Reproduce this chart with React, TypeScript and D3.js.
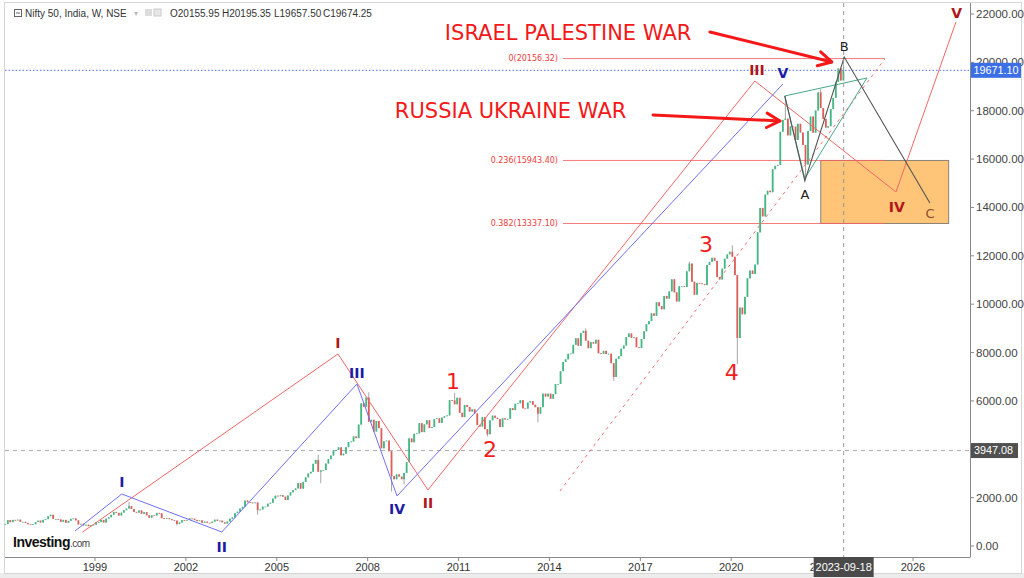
import React from 'react';
import * as d3 from 'd3';

const W = 1024;
const H = 578;

// Nifty 50 monthly closes, Jan 1996 onward
const closes1990s = [
  905, 1070, 985, 1080, 1060, 1090, 1000, 1000, 950, 900, 870, 900,
  990, 1050, 970, 1080, 1110, 1230, 1290, 1120, 1120, 1100, 1000, 1080,
  960, 1040, 1120, 1140, 1060, 890, 920, 850, 880, 820, 870, 880,
  990, 990, 1080, 970, 1130, 1190, 1290, 1410, 1370, 1260, 1380, 1480,
];
const closes2000s = [
  1550, 1650, 1530, 1410, 1380, 1470, 1330, 1400, 1270, 1170, 1270, 1260,
  1370, 1350, 1150, 1130, 1150, 1110, 1070, 1050, 910, 970, 1070, 1060,
  1080, 1140, 1130, 1080, 1030, 1060, 960, 1010, 960, 950, 1010, 1090,
  1040, 1050, 980, 930, 1010, 1130, 1180, 1360, 1420, 1550, 1620, 1880,
  1810, 1800, 1770, 1800, 1480, 1510, 1630, 1630, 1750, 1790, 1960, 2080,
  2060, 2100, 2040, 1900, 2090, 2220, 2310, 2380, 2600, 2370, 2650, 2840,
  3000, 3070, 3400, 3560, 3070, 3130, 3140, 3410, 3590, 3740, 3950, 3970,
  4080, 3750, 3820, 4090, 4300, 4320, 4530, 4460, 5020, 5900, 5760, 6140,
  5140, 5220, 4730, 5170, 4870, 4040, 4330, 4360, 3920, 2890, 2760, 2960,
  2870, 2760, 3020, 3470, 4450, 4290, 4640, 4660, 5080, 4710, 5030, 5200,
];
const closes2010s = [
  4880, 4920, 5250, 5280, 5090, 5310, 5370, 5400, 6030, 6020, 5860, 6130,
  5510, 5330, 5830, 5750, 5560, 5650, 5480, 5000, 4940, 5330, 4830, 4620,
  5200, 5390, 5300, 5250, 4920, 5280, 5230, 5260, 5700, 5620, 5880, 5900,
  6030, 5690, 5680, 5930, 5990, 5840, 5740, 5470, 5740, 6300, 6180, 6300,
  6090, 6280, 6700, 6700, 7230, 7610, 7720, 7950, 7960, 8320, 8590, 8280,
  8810, 8900, 8490, 8180, 8430, 8370, 8530, 7970, 7950, 8070, 7940, 7950,
  7560, 6990, 7740, 7850, 8160, 8290, 8640, 8790, 8610, 8630, 8220, 8190,
  8560, 8880, 9170, 9300, 9620, 9520, 10080, 9920, 9790, 10340, 10230, 10530,
  11030, 10490, 10110, 10740, 10740, 10710, 11360, 11680, 10930, 10390, 10880, 10860,
  10830, 10790, 11620, 11750, 11920, 11790, 11120, 11020, 11470, 11880, 12060, 12170,
];
const closes2020s = [
  11960, 11200, 8600, 9860, 9580, 10300, 11070, 11390, 11250, 11640, 12970, 13980,
  13630, 14530, 14690, 14630, 15580, 15720, 15760, 17130, 17620, 17670, 16980, 17350,
  17340, 16790, 17460, 17100, 16580, 15780, 17160, 17760, 17090, 18010, 18760, 18110,
  17660, 17300, 17360, 18070, 18530, 19190, 19750, 19250, 19674,
];

// wick extremes for a few months
const wickHighs: [string, number][] = [
  ['2000-02', 1818], ['2006-05', 3774], ['2008-01', 6357], ['2010-11', 6338],
  ['2015-03', 8996], ['2018-08', 11760], ['2020-01', 12430], ['2021-10', 18604],
  ['2022-12', 18887], ['2023-09', 20222],
];
const wickLows: [string, number][] = [
  ['2001-09', 849], ['2003-04', 920], ['2004-05', 1292], ['2006-06', 2595],
  ['2008-10', 2252], ['2009-03', 2539], ['2011-12', 4531], ['2013-08', 5119],
  ['2016-02', 6826], ['2020-03', 7511], ['2022-06', 15183],
];

// Elliott wave paths [date, price]
const redWave: [string, number][] = [
  ['1998-08-01', 570], ['2007-01-08', 7940], ['2009-12-28', 2316],
  ['2020-10-12', 19230], ['2025-06-10', 14640], ['2027-06-03', 21670],
];
const blueWave: [string, number][] = [
  ['1998-05-05', 620], ['1999-11-20', 2150], ['2003-03-10', 579],
  ['2007-08-25', 6700], ['2008-12-20', 2068], ['2021-09-16', 19107],
];
const abcWave: [string, number][] = [
  ['2021-10-08', 18610], ['2022-06-07', 15095], ['2023-09-25', 20223], ['2026-07-24', 14185],
];
const triangle: [string, number][] = [
  ['2021-10-08', 18610], ['2024-06-25', 19355], ['2022-06-07', 15200],
];
const channel: [string, number][] = [['2014-05-08', 2275], ['2025-01-26', 20141]];

const fibLevels = [20156.32, 15943.4, 13337.1];
const fibRatios = ['0', '0.236', '0.382'];
const fibSpan = ['2014-06-13', '2025-01-26'];
const boxSpan = ['2022-12-16', '2027-03-07'];

const romanNames = ['I', 'II', 'III', 'IV', 'V'];
const redRomanPos: [string, number][] = [
  ['2007-01-08', 8395], ['2009-12-28', 1778], ['2020-11-07', 19686],
  ['2025-06-20', 14020], ['2027-06-12', 22043],
];
const blueRomanPos: [string, number][] = [
  ['1999-11-20', 2647], ['2003-03-10', -41], ['2007-08-25', 7155],
  ['2008-12-20', 1530], ['2021-09-16', 19562],
];
const digitNames = ['1', '2', '3', '4'];
const digitPos: [string, number][] = [
  ['2010-10-27', 6824], ['2012-01-15', 4012], ['2019-03-03', 12490], ['2020-01-08', 7196],
];
const abcNames = ['A', 'B', 'C'];
const abcPos: [string, number][] = [
  ['2022-06-07', 14557], ['2023-09-25', 20678], ['2026-07-24', 13772],
];

const warTexts = ['ISRAEL PALESTINE WAR', 'RUSSIA UKRAINE WAR'];
const warTextPos: [string, number][] = [['2010-07-20', 21257], ['2008-11-24', 18032]];
const warArrows: [string, number, string, number][] = [
  ['2019-04-20', 21257, '2023-04-27', 20017],
  ['2017-06-03', 17825, '2021-08-11', 17577],
];

const lastClose = 19671.1;
const markLevel = 3947.08;
const cursorDate = '2023-09-18';
const yTicks = d3.range(0, 22001, 2000);
const xTickYears = d3.range(1999, 2027, 3);

const parse = d3.timeParse('%Y-%m-%d');
const dt = (s: string) => parse(s) as Date;

export default function App() {
  const base = d3.scaleTime().domain([new Date(1999, 0, 1), new Date(2026, 0, 1)]).range([95, 913]);
  const x = d3.scaleTime().domain([base.invert(5), base.invert(970)]).range([5, 970]);
  const y = d3.scaleLinear().domain([0, 22000]).range([546, 14]);

  const closes = [...closes1990s, ...closes2000s, ...closes2010s, ...closes2020s];
  const hiMap = new Map(wickHighs);
  const loMap = new Map(wickLows);
  const fmtKey = d3.timeFormat('%Y-%m');
  const candles = closes.map((c, i) => {
    const date = new Date(1996, i, 15);
    const o = i === 0 ? c : closes[i - 1];
    const key = fmtKey(date);
    const hi = Math.max(o, c, hiMap.get(key) ?? 0);
    const lo = Math.min(o, c, loMap.get(key) ?? Infinity);
    return { date, o, c, hi, lo };
  });

  const line = d3.line<[string, number]>().x((d) => x(dt(d[0]))).y((d) => y(d[1]));
  const fmt2 = d3.format('.2f');

  const arrowHead = (x1: number, y1: number, x2: number, y2: number) => {
    const a = Math.atan2(y2 - y1, x2 - x1);
    const L = 15;
    const p1 = [x2 - L * Math.cos(a - 0.5), y2 - L * Math.sin(a - 0.5)];
    const p2 = [x2 - L * Math.cos(a + 0.5), y2 - L * Math.sin(a + 0.5)];
    return `M${p1[0]},${p1[1]}L${x2},${y2}L${p2[0]},${p2[1]}`;
  };

  const font = 'DejaVu Sans, Verdana, sans-serif';
  const axFont = 'Liberation Sans, Arial, sans-serif';
  const narrow = 'Liberation Sans Narrow, Liberation Sans, Arial, sans-serif';
  const cx = x(dt(cursorDate));

  return (
    <svg width={W} height={H} style={{ position: 'absolute', left: 0, top: 0, background: '#fff' }}>
      <defs>
        <clipPath id="xlab">
          <rect x={0} y={557} width={cx - 30} height={21} />
          <rect x={cx + 30} y={557} width={W} height={21} />
        </clipPath>
      </defs>
      <rect x={0} y={0} width={W} height={H} fill="#fff" />
      <rect x={0} y={573} width={W} height={5} fill="#ececec" />
      <rect x={4.5} y={2.5} width={1017} height={571} fill="none" stroke="#d6d6d6" />

      {/* reference lines */}
      <line x1={5} x2={970} y1={y(markLevel)} y2={y(markLevel)} stroke="#aaa" strokeDasharray="4,4" />
      <line x1={5} x2={970} y1={y(lastClose)} y2={y(lastClose)} stroke="#4a6cf7" strokeDasharray="1.5,2" />

      {/* target box */}
      <rect x={x(dt(boxSpan[0]))} y={y(fibLevels[1])} width={x(dt(boxSpan[1])) - x(dt(boxSpan[0]))}
        height={y(fibLevels[2]) - y(fibLevels[1])} fill="#fec478" stroke="#8c8275" />

      {/* fib levels */}
      {fibLevels.map((v, i) => (
        <g key={'f' + i}>
          <line x1={x(dt(fibSpan[0]))} x2={x(dt(fibSpan[1]))} y1={y(v)} y2={y(v)} stroke="#f26464" strokeOpacity={0.85} />
          <text x={x(dt(fibSpan[0])) - 5} y={y(v)} dy="0.35em" textAnchor="end" fontSize={8} fill="#f03c3c" fontFamily={font}>
            {fibRatios[i]}({fmt2(v)})
          </text>
        </g>
      ))}

      {/* candles */}
      {candles.map((d, i) => {
        const up = d.c >= d.o;
        const col = up ? '#43b884' : '#dd5f5a';
        const cxx = x(d.date);
        const top = y(Math.max(d.o, d.c));
        const bot = y(Math.min(d.o, d.c));
        return (
          <g key={'c' + i}>
            <line x1={cxx} x2={cxx} y1={y(d.hi)} y2={y(d.lo)} stroke="#8f8f8f" strokeWidth={0.8} />
            <rect x={cxx - 0.9} y={top} width={1.8} height={Math.max(0.8, bot - top)} fill={col} />
          </g>
        );
      })}

      {/* wave lines */}
      <path d={line(channel) ?? ''} fill="none" stroke="#f07070" strokeDasharray="3,4" />
      <path d={line(redWave) ?? ''} fill="none" stroke="#f26666" />
      <path d={line(blueWave) ?? ''} fill="none" stroke="#6f6ff5" />
      <path d={(line(triangle) ?? '') + 'Z'} fill="none" stroke="#48a882" />
      <path d={line(abcWave) ?? ''} fill="none" stroke="#555" strokeWidth={1.1} />

      {/* cursor */}
      <line x1={cx} x2={cx} y1={3} y2={557} stroke="#999" strokeDasharray="4,4" />

      {/* labels */}
      {redRomanPos.map((p, i) => (
        <text key={'rr' + i} x={x(dt(p[0]))} y={y(p[1])} dy="0.35em" textAnchor="middle" fontSize={14}
          fontWeight="bold" fill="#b0161a" fontFamily={font}>{romanNames[i]}</text>
      ))}
      {blueRomanPos.map((p, i) => (
        <text key={'br' + i} x={x(dt(p[0]))} y={y(p[1])} dy="0.35em" textAnchor="middle" fontSize={14}
          fontWeight="bold" fill="#1c1ca4" fontFamily={font}>{romanNames[i]}</text>
      ))}
      {digitPos.map((p, i) => (
        <text key={'d' + i} x={x(dt(p[0]))} y={y(p[1])} dy="0.36em" textAnchor="middle" fontSize={22}
          fill="#f41c1c" fontFamily={font}>{digitNames[i]}</text>
      ))}
      {abcPos.map((p, i) => (
        <text key={'a' + i} x={x(dt(p[0]))} y={y(p[1])} dy="0.36em" textAnchor="middle" fontSize={13}
          fill={i === 2 ? '#8b4a2a' : '#222'} fontFamily={font}>{abcNames[i]}</text>
      ))}

      {/* war annotations */}
      {warTexts.map((t, i) => (
        <text key={'w' + i} x={x(dt(warTextPos[i][0]))} y={y(warTextPos[i][1])} dy="0.36em" fontSize={21}
          fill="#f41818" fontFamily={font}>{t}</text>
      ))}
      {warArrows.map((a, i) => {
        const x1 = x(dt(a[0])), y1 = y(a[1]), x2 = x(dt(a[2])), y2 = y(a[3]);
        return (
          <g key={'ar' + i} stroke="#f41818" strokeWidth={3} fill="none" strokeLinecap="round">
            <line x1={x1} y1={y1} x2={x2} y2={y2} />
            <path d={arrowHead(x1, y1, x2, y2)} strokeLinejoin="round" />
          </g>
        );
      })}

      {/* axes */}
      <line x1={970.5} x2={970.5} y1={3} y2={557} stroke="#888" />
      <line x1={5} x2={970.5} y1={557.5} y2={557.5} stroke="#888" />
      {yTicks.filter((v) => Math.abs(y(v) - y(markLevel)) > 6).map((v) => (
        <g key={'y' + v}>
          <line x1={970} x2={974} y1={y(v)} y2={y(v)} stroke="#888" />
          <text x={976} y={y(v)} dy="0.35em" fontSize={11.5} fill="#444" fontFamily={axFont}>{fmt2(v)}</text>
        </g>
      ))}
      <g clipPath="url(#xlab)">
        {xTickYears.map((yr) => {
          const px = x(new Date(yr, 0, 1));
          return (
            <g key={'x' + yr}>
              <line x1={px} x2={px} y1={557} y2={561} stroke="#888" />
              <text x={px} y={571} textAnchor="middle" fontSize={11} fill="#333" fontFamily={narrow}>{yr}</text>
            </g>
          );
        })}
      </g>

      {/* price tags */}
      <rect x={971} y={y(lastClose) - 7.5} width={50} height={15} fill="#3c6ee6" />
      <text x={973.5} y={y(lastClose)} dy="0.35em" fontSize={10.8} fill="#fff" fontFamily={axFont}>{fmt2(lastClose)}</text>
      <rect x={971} y={y(markLevel) - 7.5} width={47} height={15} fill="#505050" />
      <text x={974} y={y(markLevel)} dy="0.35em" fontSize={10.8} fill="#fff" fontFamily={axFont}>{fmt2(markLevel)}</text>
      <rect x={cx - 30} y={557} width={60} height={20} fill="#4a4a4a" />
      <text x={cx} y={571} textAnchor="middle" fontSize={11} fill="#fff" fontFamily={narrow}>{cursorDate}</text>

      {/* header */}
      <rect x={14.5} y={9.5} width={7} height={7} fill="none" stroke="#666" />
      <line x1={16} x2={20} y1={13} y2={13} stroke="#666" />
      <text x={25} y={16.5} fontSize={10} fill="#333" fontFamily={axFont}>Nifty 50, India, W, NSE</text>
      <text x={134} y={16} fontSize={8} fill="#bbb" fontFamily={axFont}>▾</text>
      <rect x={145} y={9} width={7} height={7} fill="#ddd" />
      <rect x={154} y={9} width={7} height={7} fill="#e6e6e6" stroke="#ccc" />
      <text x={170} y={16.5} fontSize={10} fill="#333" fontFamily={axFont}>O20155.95</text>
      <text x={222} y={16.5} fontSize={10} fill="#333" fontFamily={axFont}>H20195.35</text>
      <text x={274} y={16.5} fontSize={10} fill="#333" fontFamily={axFont}>L19657.50</text>
      <text x={323} y={16.5} fontSize={10} fill="#333" fontFamily={axFont}>C19674.25</text>

      {/* logo */}
      <text x={13} y={547} fontSize={14} fontWeight="bold" fill="#111" fontFamily={axFont} letterSpacing={-0.5}>
        Investing<tspan fontSize={10} fontWeight="normal" fill="#444">.com</tspan>
      </text>
    </svg>
  );
}
